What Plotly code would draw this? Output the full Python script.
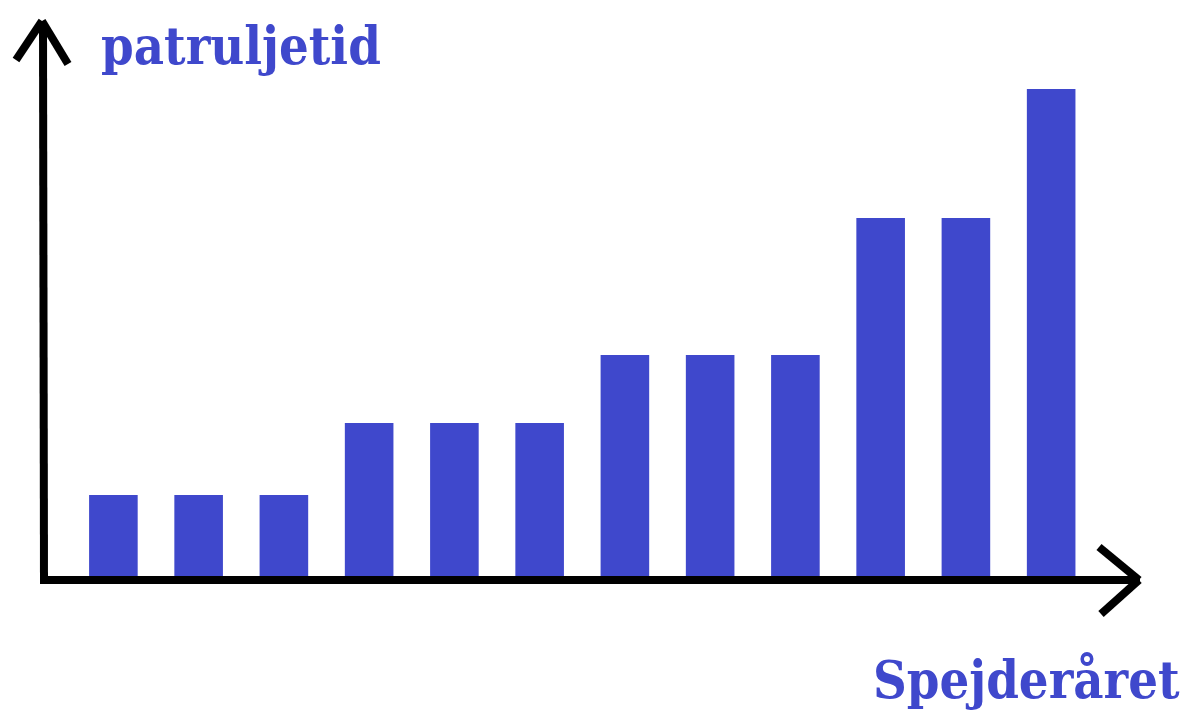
import plotly.graph_objects as go

# Data (arbitrary units)
years = [str(i) for i in range(1, 13)]
patrol_time = [81, 81, 81, 153, 153, 153, 221, 221, 221, 358, 358, 487]

y_title = "patruljetid"
x_title = "Spejderåret"

W, H = 1185, 711
BLUE = "#3F48CC"
FONT = "DejaVu Serif Condensed, DejaVu Serif, serif"

fig = go.Figure(go.Bar(x=years, y=patrol_time, marker=dict(color=BLUE, line=dict(width=0)),
                       width=0.57, hoverinfo="skip"))

def px(x):
    return x / W

def py(y):
    return 1 - y / H

shapes = []
def seg(x0, y0, x1, y1, w=8):
    shapes.append(dict(type="line", xref="paper", yref="paper",
                       x0=px(x0), y0=py(y0), x1=px(x1), y1=py(y1),
                       line=dict(color="black", width=w), layer="above"))

# y axis with arrow
seg(44, 584, 43, 22)
seg(42, 21, 16, 60)
seg(42, 21, 68, 64)
# x axis with arrow
seg(40, 580, 1140, 580)
seg(1139, 580, 1099, 547)
seg(1139, 580, 1101, 614)

fig.update_layout(
    width=W, height=H,
    margin=dict(l=0, r=0, t=0, b=0),
    paper_bgcolor="white", plot_bgcolor="white",
    showlegend=False,
    xaxis=dict(type="category", range=[-1.33, 12.57], showticklabels=False,
               showgrid=False, zeroline=False, showline=False, fixedrange=True),
    yaxis=dict(range=[-135, 576], showticklabels=False, showgrid=False,
               zeroline=False, showline=False, fixedrange=True),
    shapes=shapes,
    annotations=[
        dict(text=f"<b>{y_title}</b>", xref="paper", yref="paper", x=px(99), y=py(46),
             xanchor="left", yanchor="middle", showarrow=False,
             font=dict(family=FONT, size=52, color=BLUE)),
        dict(text=f"<b>{x_title}</b>", xref="paper", yref="paper", x=px(1182), y=py(679),
             xanchor="right", yanchor="middle", showarrow=False,
             font=dict(family=FONT, size=52, color=BLUE)),
    ],
)

fig.write_html("out.html", config={"displayModeBar": False},
               post_script="document.body.style.margin='0';document.body.style.overflow='hidden';")
